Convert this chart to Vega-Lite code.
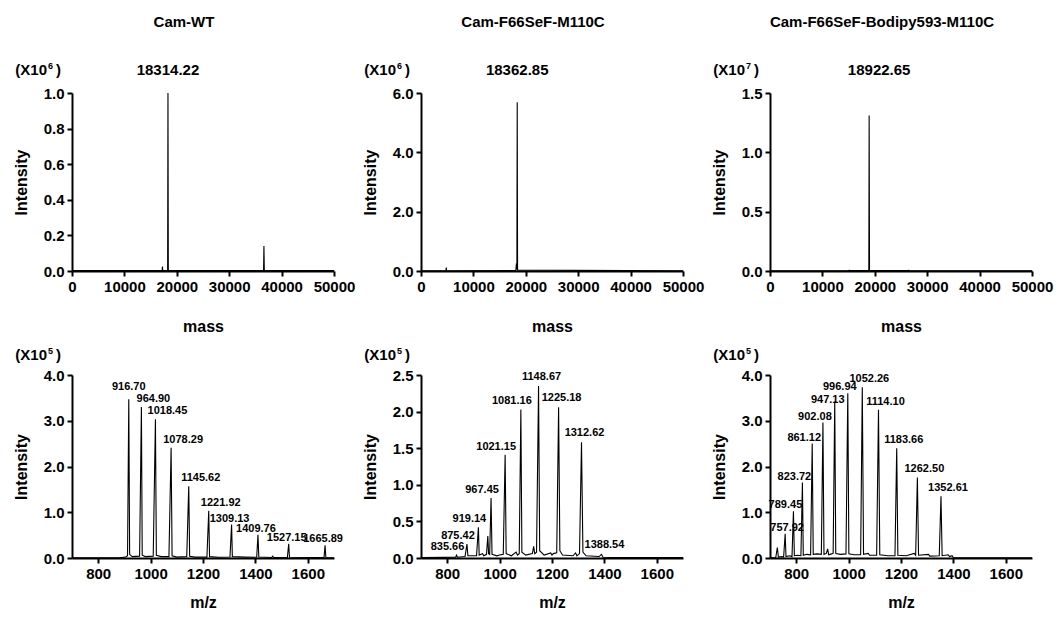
{
  "$schema": "https://vega.github.io/schema/vega-lite/v6.json",
  "padding": {"left": 13, "top": 15, "right": 4, "bottom": 4},
  "background": "white",
  "columns": 3,
  "spacing": {"row": 13, "column": 7},
  "datasets": {
    "wt_mass": [
      {"mass": 0, "intensity": 0.003},
      {"mass": 17200, "intensity": 0.003},
      {"mass": 17260, "intensity": 0.025},
      {"mass": 17320, "intensity": 0.003},
      {"mass": 18250, "intensity": 0.004},
      {"mass": 18314.22, "intensity": 1.0, "peak": true},
      {"mass": 18380, "intensity": 0.004},
      {"mass": 36560, "intensity": 0.003},
      {"mass": 36628, "intensity": 0.14},
      {"mass": 36700, "intensity": 0.003},
      {"mass": 50000, "intensity": 0.002}
    ],
    "se_mass": [
      {"mass": 0, "intensity": 0.01},
      {"mass": 4750, "intensity": 0.01},
      {"mass": 4820, "intensity": 0.12},
      {"mass": 4890, "intensity": 0.01},
      {"mass": 18100, "intensity": 0.02},
      {"mass": 18200, "intensity": 0.25},
      {"mass": 18300, "intensity": 0.05},
      {"mass": 18362.85, "intensity": 5.69, "peak": true},
      {"mass": 18430, "intensity": 0.03},
      {"mass": 50000, "intensity": 0.01}
    ],
    "bd_mass": [
      {"mass": 0, "intensity": 0.002},
      {"mass": 15000, "intensity": 0.003},
      {"mass": 15100, "intensity": 0.006},
      {"mass": 15200, "intensity": 0.003},
      {"mass": 18860, "intensity": 0.004},
      {"mass": 18922.65, "intensity": 1.31, "peak": true},
      {"mass": 18990, "intensity": 0.004},
      {"mass": 26400, "intensity": 0.003},
      {"mass": 26500, "intensity": 0.006},
      {"mass": 26600, "intensity": 0.003},
      {"mass": 50000, "intensity": 0.002}
    ],
    "wt_mz": [
      {"mz": 700, "intensity": 0.004},
      {"mz": 880, "intensity": 0.005},
      {"mz": 905, "intensity": 0.02},
      {"mz": 912, "intensity": 0.05},
      {"mz": 916.7, "intensity": 3.47, "peak": true},
      {"mz": 920, "intensity": 0.08},
      {"mz": 930, "intensity": 0.03},
      {"mz": 958, "intensity": 0.04},
      {"mz": 964.9, "intensity": 3.30, "peak": true},
      {"mz": 968, "intensity": 0.06},
      {"mz": 980, "intensity": 0.03},
      {"mz": 1010, "intensity": 0.04},
      {"mz": 1018.45, "intensity": 3.03, "peak": true},
      {"mz": 1022, "intensity": 0.06},
      {"mz": 1040, "intensity": 0.03},
      {"mz": 1070, "intensity": 0.03},
      {"mz": 1078.29, "intensity": 2.41, "peak": true},
      {"mz": 1082, "intensity": 0.05},
      {"mz": 1100, "intensity": 0.02},
      {"mz": 1138, "intensity": 0.03},
      {"mz": 1145.62, "intensity": 1.57, "peak": true},
      {"mz": 1149, "intensity": 0.04},
      {"mz": 1170, "intensity": 0.02},
      {"mz": 1215, "intensity": 0.02},
      {"mz": 1221.92, "intensity": 1.03, "peak": true},
      {"mz": 1225, "intensity": 0.03},
      {"mz": 1260, "intensity": 0.015},
      {"mz": 1303, "intensity": 0.02},
      {"mz": 1309.13, "intensity": 0.73, "peak": true},
      {"mz": 1312, "intensity": 0.03},
      {"mz": 1360, "intensity": 0.02},
      {"mz": 1405, "intensity": 0.015},
      {"mz": 1409.76, "intensity": 0.51, "peak": true},
      {"mz": 1413, "intensity": 0.02},
      {"mz": 1462, "intensity": 0.01},
      {"mz": 1466, "intensity": 0.04},
      {"mz": 1470, "intensity": 0.01},
      {"mz": 1522, "intensity": 0.01},
      {"mz": 1527.15, "intensity": 0.31, "peak": true},
      {"mz": 1530, "intensity": 0.015},
      {"mz": 1600, "intensity": 0.01},
      {"mz": 1662, "intensity": 0.01},
      {"mz": 1665.89, "intensity": 0.28, "peak": true},
      {"mz": 1669, "intensity": 0.01},
      {"mz": 1700, "intensity": 0.005}
    ],
    "se_mz": [
      {"mz": 700, "intensity": 0.005},
      {"mz": 790, "intensity": 0.008},
      {"mz": 832, "intensity": 0.01},
      {"mz": 835.66, "intensity": 0.04, "peak": true},
      {"mz": 839, "intensity": 0.01},
      {"mz": 868, "intensity": 0.02},
      {"mz": 875.42, "intensity": 0.19, "peak": true},
      {"mz": 879, "intensity": 0.03},
      {"mz": 900, "intensity": 0.03},
      {"mz": 912, "intensity": 0.03},
      {"mz": 919.14, "intensity": 0.42, "peak": true},
      {"mz": 922, "intensity": 0.04},
      {"mz": 935, "intensity": 0.06},
      {"mz": 940, "intensity": 0.03},
      {"mz": 950, "intensity": 0.05},
      {"mz": 955, "intensity": 0.30},
      {"mz": 958, "intensity": 0.06},
      {"mz": 962, "intensity": 0.05},
      {"mz": 967.45, "intensity": 0.82, "peak": true},
      {"mz": 971, "intensity": 0.05},
      {"mz": 990, "intensity": 0.03},
      {"mz": 1000, "intensity": 0.04},
      {"mz": 1014, "intensity": 0.05},
      {"mz": 1021.15, "intensity": 1.41, "peak": true},
      {"mz": 1025, "intensity": 0.06},
      {"mz": 1045, "intensity": 0.03},
      {"mz": 1063, "intensity": 0.08},
      {"mz": 1068, "intensity": 0.04},
      {"mz": 1075, "intensity": 0.06},
      {"mz": 1081.16, "intensity": 2.03, "peak": true},
      {"mz": 1085, "intensity": 0.08},
      {"mz": 1100, "intensity": 0.04},
      {"mz": 1125, "intensity": 0.06},
      {"mz": 1130, "intensity": 0.16},
      {"mz": 1134, "intensity": 0.06},
      {"mz": 1141, "intensity": 0.08},
      {"mz": 1148.67, "intensity": 2.35, "peak": true},
      {"mz": 1153, "intensity": 0.10},
      {"mz": 1170, "intensity": 0.04},
      {"mz": 1195, "intensity": 0.07},
      {"mz": 1200, "intensity": 0.04},
      {"mz": 1205, "intensity": 0.06},
      {"mz": 1218, "intensity": 0.07},
      {"mz": 1225.18, "intensity": 2.06, "peak": true},
      {"mz": 1230, "intensity": 0.10},
      {"mz": 1240, "intensity": 0.04},
      {"mz": 1280, "intensity": 0.03},
      {"mz": 1290, "intensity": 0.07},
      {"mz": 1295, "intensity": 0.03},
      {"mz": 1305, "intensity": 0.06},
      {"mz": 1312.62, "intensity": 1.58, "peak": true},
      {"mz": 1318, "intensity": 0.08},
      {"mz": 1330, "intensity": 0.03},
      {"mz": 1380, "intensity": 0.02},
      {"mz": 1388.54, "intensity": 0.05, "peak": true},
      {"mz": 1395, "intensity": 0.01},
      {"mz": 1450, "intensity": 0.005},
      {"mz": 1700, "intensity": 0.005}
    ],
    "bd_mz": [
      {"mz": 700, "intensity": 0.005},
      {"mz": 722, "intensity": 0.01},
      {"mz": 728, "intensity": 0.23},
      {"mz": 732, "intensity": 0.02},
      {"mz": 745, "intensity": 0.03},
      {"mz": 752, "intensity": 0.02},
      {"mz": 757.92, "intensity": 0.53, "peak": true},
      {"mz": 761, "intensity": 0.03},
      {"mz": 775, "intensity": 0.05},
      {"mz": 784, "intensity": 0.03},
      {"mz": 789.45, "intensity": 1.02, "peak": true},
      {"mz": 793, "intensity": 0.05},
      {"mz": 805, "intensity": 0.06},
      {"mz": 818, "intensity": 0.05},
      {"mz": 823.72, "intensity": 1.65, "peak": true},
      {"mz": 827, "intensity": 0.06},
      {"mz": 840, "intensity": 0.08},
      {"mz": 855, "intensity": 0.07},
      {"mz": 861.12, "intensity": 2.50, "peak": true},
      {"mz": 865, "intensity": 0.08},
      {"mz": 880, "intensity": 0.09},
      {"mz": 896, "intensity": 0.08},
      {"mz": 902.08, "intensity": 2.96, "peak": true},
      {"mz": 906, "intensity": 0.08},
      {"mz": 915, "intensity": 0.10},
      {"mz": 920, "intensity": 0.20},
      {"mz": 924, "intensity": 0.07},
      {"mz": 935, "intensity": 0.09},
      {"mz": 941, "intensity": 0.10},
      {"mz": 947.13, "intensity": 3.42, "peak": true},
      {"mz": 951, "intensity": 0.10},
      {"mz": 970, "intensity": 0.08},
      {"mz": 990, "intensity": 0.09},
      {"mz": 996.94, "intensity": 3.60, "peak": true},
      {"mz": 1001, "intensity": 0.09},
      {"mz": 1020, "intensity": 0.07},
      {"mz": 1046, "intensity": 0.07},
      {"mz": 1052.26, "intensity": 3.73, "peak": true},
      {"mz": 1057, "intensity": 0.08},
      {"mz": 1075, "intensity": 0.10},
      {"mz": 1080, "intensity": 0.06},
      {"mz": 1107, "intensity": 0.06},
      {"mz": 1114.1, "intensity": 3.24, "peak": true},
      {"mz": 1119, "intensity": 0.07},
      {"mz": 1150, "intensity": 0.05},
      {"mz": 1177, "intensity": 0.05},
      {"mz": 1183.66, "intensity": 2.40, "peak": true},
      {"mz": 1188, "intensity": 0.06},
      {"mz": 1220, "intensity": 0.05},
      {"mz": 1250, "intensity": 0.10},
      {"mz": 1256, "intensity": 0.06},
      {"mz": 1262.5, "intensity": 1.76, "peak": true},
      {"mz": 1267, "intensity": 0.06},
      {"mz": 1305, "intensity": 0.08},
      {"mz": 1310, "intensity": 0.04},
      {"mz": 1346, "intensity": 0.05},
      {"mz": 1352.61, "intensity": 1.35, "peak": true},
      {"mz": 1357, "intensity": 0.05},
      {"mz": 1380, "intensity": 0.07},
      {"mz": 1385, "intensity": 0.03},
      {"mz": 1395, "intensity": 0.05},
      {"mz": 1400, "intensity": 0.005},
      {"mz": 1700, "intensity": 0.005}
    ]
  },
  "concat": [
    {
      "width": 262, "height": 178,
      "title": "Cam-WT",
      "layer": [
        {
          "data": {"name": "wt_mass"},
          "mark": {"type": "line", "color": "black", "strokeWidth": 1.1},
          "encoding": {
            "x": {"field": "mass", "type": "quantitative", "scale": {"domain": [0, 50000], "nice": false},
                  "axis": {"values": [0, 10000, 20000, 30000, 40000, 50000], "format": "d", "title": "mass", "titlePadding": 24}},
            "y": {"field": "intensity", "type": "quantitative", "scale": {"domain": [0, 1.0], "nice": false},
                  "axis": {"values": [0, 0.2, 0.4, 0.6, 0.8, 1.0], "format": ".1f", "title": "Intensity"}}
          }
        },
        {
          "data": {"name": "wt_mass"},
          "transform": [{"filter": "datum.peak"}],
          "mark": {"type": "text", "fontSize": 15, "fontWeight": "bold", "baseline": "middle", "dy": -23},
          "encoding": {
            "x": {"field": "mass", "type": "quantitative"},
            "y": {"datum": 1.0},
            "text": {"field": "mass", "type": "quantitative", "format": ".2f"}
          }
        },
        {
          "data": {"values": [{"lead": "(X10", "power": "6", "tail": ")"}]},
          "layer": [
            {"mark": {"type": "text", "fontSize": 15, "fontWeight": "bold", "align": "right", "baseline": "middle", "dx": -25, "dy": -23},
             "encoding": {"x": {"datum": 0}, "y": {"datum": 1.0}, "text": {"field": "lead"}}},
            {"mark": {"type": "text", "fontSize": 9, "fontWeight": "bold", "align": "right", "baseline": "middle", "dx": -19, "dy": -27},
             "encoding": {"x": {"datum": 0}, "y": {"datum": 1.0}, "text": {"field": "power"}}},
            {"mark": {"type": "text", "fontSize": 15, "fontWeight": "bold", "align": "right", "baseline": "middle", "dx": -11, "dy": -23},
             "encoding": {"x": {"datum": 0}, "y": {"datum": 1.0}, "text": {"field": "tail"}}}
          ]
        }
      ]
    },
    {
      "width": 262, "height": 178,
      "title": "Cam-F66SeF-M110C",
      "layer": [
        {
          "data": {"name": "se_mass"},
          "mark": {"type": "line", "color": "black", "strokeWidth": 1.1},
          "encoding": {
            "x": {"field": "mass", "type": "quantitative", "scale": {"domain": [0, 50000], "nice": false},
                  "axis": {"values": [0, 10000, 20000, 30000, 40000, 50000], "format": "d", "title": "mass", "titlePadding": 24}},
            "y": {"field": "intensity", "type": "quantitative", "scale": {"domain": [0, 6.0], "nice": false},
                  "axis": {"values": [0, 2, 4, 6], "format": ".1f", "title": "Intensity"}}
          }
        },
        {
          "data": {"name": "se_mass"},
          "transform": [{"filter": "datum.peak"}],
          "mark": {"type": "text", "fontSize": 15, "fontWeight": "bold", "baseline": "middle", "dy": -23},
          "encoding": {
            "x": {"field": "mass", "type": "quantitative"},
            "y": {"datum": 6.0},
            "text": {"field": "mass", "type": "quantitative", "format": ".2f"}
          }
        },
        {
          "data": {"values": [{"lead": "(X10", "power": "6", "tail": ")"}]},
          "layer": [
            {"mark": {"type": "text", "fontSize": 15, "fontWeight": "bold", "align": "right", "baseline": "middle", "dx": -25, "dy": -23},
             "encoding": {"x": {"datum": 0}, "y": {"datum": 6.0}, "text": {"field": "lead"}}},
            {"mark": {"type": "text", "fontSize": 9, "fontWeight": "bold", "align": "right", "baseline": "middle", "dx": -19, "dy": -27},
             "encoding": {"x": {"datum": 0}, "y": {"datum": 6.0}, "text": {"field": "power"}}},
            {"mark": {"type": "text", "fontSize": 15, "fontWeight": "bold", "align": "right", "baseline": "middle", "dx": -11, "dy": -23},
             "encoding": {"x": {"datum": 0}, "y": {"datum": 6.0}, "text": {"field": "tail"}}}
          ]
        }
      ]
    },
    {
      "width": 262, "height": 178,
      "title": "Cam-F66SeF-Bodipy593-M110C",
      "layer": [
        {
          "data": {"name": "bd_mass"},
          "mark": {"type": "line", "color": "black", "strokeWidth": 1.1},
          "encoding": {
            "x": {"field": "mass", "type": "quantitative", "scale": {"domain": [0, 50000], "nice": false},
                  "axis": {"values": [0, 10000, 20000, 30000, 40000, 50000], "format": "d", "title": "mass", "titlePadding": 24}},
            "y": {"field": "intensity", "type": "quantitative", "scale": {"domain": [0, 1.5], "nice": false},
                  "axis": {"values": [0, 0.5, 1.0, 1.5], "format": ".1f", "title": "Intensity"}}
          }
        },
        {
          "data": {"name": "bd_mass"},
          "transform": [{"filter": "datum.peak"}],
          "mark": {"type": "text", "fontSize": 15, "fontWeight": "bold", "baseline": "middle", "dy": -23, "dx": 10},
          "encoding": {
            "x": {"field": "mass", "type": "quantitative"},
            "y": {"datum": 1.5},
            "text": {"field": "mass", "type": "quantitative", "format": ".2f"}
          }
        },
        {
          "data": {"values": [{"lead": "(X10", "power": "7", "tail": ")"}]},
          "layer": [
            {"mark": {"type": "text", "fontSize": 15, "fontWeight": "bold", "align": "right", "baseline": "middle", "dx": -25, "dy": -23},
             "encoding": {"x": {"datum": 0}, "y": {"datum": 1.5}, "text": {"field": "lead"}}},
            {"mark": {"type": "text", "fontSize": 9, "fontWeight": "bold", "align": "right", "baseline": "middle", "dx": -19, "dy": -27},
             "encoding": {"x": {"datum": 0}, "y": {"datum": 1.5}, "text": {"field": "power"}}},
            {"mark": {"type": "text", "fontSize": 15, "fontWeight": "bold", "align": "right", "baseline": "middle", "dx": -11, "dy": -23},
             "encoding": {"x": {"datum": 0}, "y": {"datum": 1.5}, "text": {"field": "tail"}}}
          ]
        }
      ]
    },
    {
      "width": 262, "height": 183,
      "layer": [
        {
          "data": {"name": "wt_mz"},
          "mark": {"type": "line", "color": "black", "strokeWidth": 1.1},
          "encoding": {
            "x": {"field": "mz", "type": "quantitative", "scale": {"domain": [700, 1700], "nice": false},
                  "axis": {"values": [800, 1000, 1200, 1400, 1600], "format": "d", "title": "m/z", "titlePadding": 13}},
            "y": {"field": "intensity", "type": "quantitative", "scale": {"domain": [0, 4.0], "nice": false},
                  "axis": {"values": [0, 1, 2, 3, 4], "format": ".1f", "title": "Intensity"}}
          }
        },
        {
          "data": {"name": "wt_mz"},
          "transform": [{"filter": "datum.peak && datum.mz < 940"}],
          "mark": {"type": "text", "fontSize": 11, "fontWeight": "bold", "baseline": "alphabetic", "dy": -9},
          "encoding": {
            "x": {"field": "mz", "type": "quantitative"},
            "y": {"field": "intensity", "type": "quantitative"},
            "text": {"field": "mz", "type": "quantitative", "format": ".2f"}
          }
        },
        {
          "data": {"name": "wt_mz"},
          "transform": [{"filter": "datum.peak && datum.mz >= 940 && datum.mz <= 1300"}],
          "mark": {"type": "text", "fontSize": 11, "fontWeight": "bold", "baseline": "alphabetic", "dy": -5, "dx": 12},
          "encoding": {
            "x": {"field": "mz", "type": "quantitative"},
            "y": {"field": "intensity", "type": "quantitative"},
            "text": {"field": "mz", "type": "quantitative", "format": ".2f"}
          }
        },
        {
          "data": {"name": "wt_mz"},
          "transform": [{"filter": "datum.peak && datum.mz > 1300"}],
          "mark": {"type": "text", "fontSize": 11, "fontWeight": "bold", "baseline": "alphabetic", "dy": -3, "dx": -2},
          "encoding": {
            "x": {"field": "mz", "type": "quantitative"},
            "y": {"field": "intensity", "type": "quantitative"},
            "text": {"field": "mz", "type": "quantitative", "format": ".2f"}
          }
        },
        {
          "data": {"values": [{"lead": "(X10", "power": "5", "tail": ")"}]},
          "layer": [
            {"mark": {"type": "text", "fontSize": 15, "fontWeight": "bold", "align": "right", "baseline": "middle", "dx": -25, "dy": -20},
             "encoding": {"x": {"datum": 700}, "y": {"datum": 4.0}, "text": {"field": "lead"}}},
            {"mark": {"type": "text", "fontSize": 9, "fontWeight": "bold", "align": "right", "baseline": "middle", "dx": -19, "dy": -24},
             "encoding": {"x": {"datum": 700}, "y": {"datum": 4.0}, "text": {"field": "power"}}},
            {"mark": {"type": "text", "fontSize": 15, "fontWeight": "bold", "align": "right", "baseline": "middle", "dx": -11, "dy": -20},
             "encoding": {"x": {"datum": 700}, "y": {"datum": 4.0}, "text": {"field": "tail"}}}
          ]
        }
      ]
    },
    {
      "width": 262, "height": 183,
      "layer": [
        {
          "data": {"name": "se_mz"},
          "mark": {"type": "line", "color": "black", "strokeWidth": 1.1},
          "encoding": {
            "x": {"field": "mz", "type": "quantitative", "scale": {"domain": [700, 1700], "nice": false},
                  "axis": {"values": [800, 1000, 1200, 1400, 1600], "format": "d", "title": "m/z", "titlePadding": 13}},
            "y": {"field": "intensity", "type": "quantitative", "scale": {"domain": [0, 2.5], "nice": false},
                  "axis": {"values": [0, 0.5, 1.0, 1.5, 2.0, 2.5], "format": ".1f", "title": "Intensity"}}
          }
        },
        {
          "data": {"name": "se_mz"},
          "transform": [{"filter": "datum.peak && datum.mz < 1100"}],
          "mark": {"type": "text", "fontSize": 11, "fontWeight": "bold", "baseline": "alphabetic", "dy": -5, "dx": -9},
          "encoding": {
            "x": {"field": "mz", "type": "quantitative"},
            "y": {"field": "intensity", "type": "quantitative"},
            "text": {"field": "mz", "type": "quantitative", "format": ".2f"}
          }
        },
        {
          "data": {"name": "se_mz"},
          "transform": [{"filter": "datum.peak && datum.mz >= 1100"}],
          "mark": {"type": "text", "fontSize": 11, "fontWeight": "bold", "baseline": "alphabetic", "dy": -6, "dx": 3},
          "encoding": {
            "x": {"field": "mz", "type": "quantitative"},
            "y": {"field": "intensity", "type": "quantitative"},
            "text": {"field": "mz", "type": "quantitative", "format": ".2f"}
          }
        },
        {
          "data": {"values": [{"lead": "(X10", "power": "5", "tail": ")"}]},
          "layer": [
            {"mark": {"type": "text", "fontSize": 15, "fontWeight": "bold", "align": "right", "baseline": "middle", "dx": -25, "dy": -20},
             "encoding": {"x": {"datum": 700}, "y": {"datum": 2.5}, "text": {"field": "lead"}}},
            {"mark": {"type": "text", "fontSize": 9, "fontWeight": "bold", "align": "right", "baseline": "middle", "dx": -19, "dy": -24},
             "encoding": {"x": {"datum": 700}, "y": {"datum": 2.5}, "text": {"field": "power"}}},
            {"mark": {"type": "text", "fontSize": 15, "fontWeight": "bold", "align": "right", "baseline": "middle", "dx": -11, "dy": -20},
             "encoding": {"x": {"datum": 700}, "y": {"datum": 2.5}, "text": {"field": "tail"}}}
          ]
        }
      ]
    },
    {
      "width": 262, "height": 183,
      "layer": [
        {
          "data": {"name": "bd_mz"},
          "mark": {"type": "line", "color": "black", "strokeWidth": 1.1},
          "encoding": {
            "x": {"field": "mz", "type": "quantitative", "scale": {"domain": [700, 1700], "nice": false},
                  "axis": {"values": [800, 1000, 1200, 1400, 1600], "format": "d", "title": "m/z", "titlePadding": 13}},
            "y": {"field": "intensity", "type": "quantitative", "scale": {"domain": [0, 4.0], "nice": false},
                  "axis": {"values": [0, 1, 2, 3, 4], "format": ".1f", "title": "Intensity"}}
          }
        },
        {
          "data": {"name": "bd_mz"},
          "transform": [{"filter": "datum.peak && datum.mz < 775"}],
          "mark": {"type": "text", "fontSize": 11, "fontWeight": "bold", "baseline": "alphabetic", "dy": -3, "dx": 2},
          "encoding": {
            "x": {"field": "mz", "type": "quantitative"},
            "y": {"field": "intensity", "type": "quantitative"},
            "text": {"field": "mz", "type": "quantitative", "format": ".2f"}
          }
        },
        {
          "data": {"name": "bd_mz"},
          "transform": [{"filter": "datum.peak && datum.mz >= 775 && datum.mz < 1000 && !(datum.mz > 930 && datum.mz < 960)"}],
          "mark": {"type": "text", "fontSize": 11, "fontWeight": "bold", "baseline": "alphabetic", "dy": -3, "dx": -8},
          "encoding": {
            "x": {"field": "mz", "type": "quantitative"},
            "y": {"field": "intensity", "type": "quantitative"},
            "text": {"field": "mz", "type": "quantitative", "format": ".2f"}
          }
        },
        {
          "data": {"name": "bd_mz"},
          "transform": [{"filter": "datum.peak && datum.mz > 930 && datum.mz < 960"}],
          "mark": {"type": "text", "fontSize": 11, "fontWeight": "bold", "baseline": "alphabetic", "dy": 1, "dx": -7},
          "encoding": {
            "x": {"field": "mz", "type": "quantitative"},
            "y": {"field": "intensity", "type": "quantitative"},
            "text": {"field": "mz", "type": "quantitative", "format": ".2f"}
          }
        },
        {
          "data": {"name": "bd_mz"},
          "transform": [{"filter": "datum.peak && datum.mz >= 1000"}],
          "mark": {"type": "text", "fontSize": 11, "fontWeight": "bold", "baseline": "alphabetic", "dy": -5, "dx": 7},
          "encoding": {
            "x": {"field": "mz", "type": "quantitative"},
            "y": {"field": "intensity", "type": "quantitative"},
            "text": {"field": "mz", "type": "quantitative", "format": ".2f"}
          }
        },
        {
          "data": {"values": [{"lead": "(X10", "power": "5", "tail": ")"}]},
          "layer": [
            {"mark": {"type": "text", "fontSize": 15, "fontWeight": "bold", "align": "right", "baseline": "middle", "dx": -25, "dy": -20},
             "encoding": {"x": {"datum": 700}, "y": {"datum": 4.0}, "text": {"field": "lead"}}},
            {"mark": {"type": "text", "fontSize": 9, "fontWeight": "bold", "align": "right", "baseline": "middle", "dx": -19, "dy": -24},
             "encoding": {"x": {"datum": 700}, "y": {"datum": 4.0}, "text": {"field": "power"}}},
            {"mark": {"type": "text", "fontSize": 15, "fontWeight": "bold", "align": "right", "baseline": "middle", "dx": -11, "dy": -20},
             "encoding": {"x": {"datum": 700}, "y": {"datum": 4.0}, "text": {"field": "tail"}}}
          ]
        }
      ]
    }
  ],
  "config": {
    "font": "Liberation Sans",
    "view": {"stroke": null},
    "text": {"color": "black"},
    "title": {"fontSize": 15, "fontWeight": "bold", "color": "black", "frame": "bounds", "anchor": "middle", "offset": 32},
    "axis": {
      "grid": false,
      "domainColor": "black",
      "domainWidth": 2,
      "tickColor": "black",
      "tickWidth": 2,
      "tickSize": 5,
      "tickCount": 12,
      "labelColor": "black",
      "labelFontSize": 15,
      "labelFontWeight": "bold",
      "labelPadding": 3,
      "labelFlush": false,
      "labelOverlap": false,
      "titleColor": "black",
      "titleFontSize": 16,
      "titleFontWeight": "bold",
      "titlePadding": 8
    },
    "axisY": {"titlePadding": 14}
  }
}
